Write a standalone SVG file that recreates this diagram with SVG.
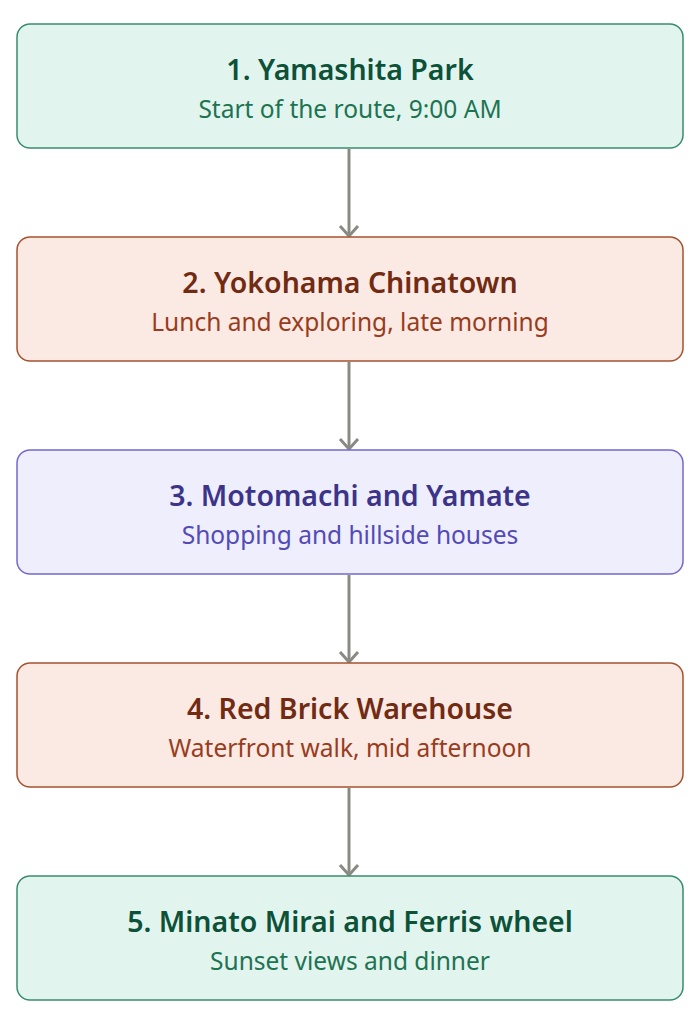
<svg xmlns="http://www.w3.org/2000/svg" width="700" height="1024" viewBox="0 0 700 1024">
<defs>
<style>
.t{font-family:"Noto Sans","Open Sans","Liberation Sans",sans-serif;font-size:28.5px;font-weight:600;text-anchor:middle}
.s{font-family:"Noto Sans","Open Sans","Liberation Sans",sans-serif;font-size:24.5px;text-anchor:middle}
.g rect{fill:#e1f5ee;stroke:#3a8c6e;stroke-width:1.5}
.g .t{fill:#0c5138}.g .s{fill:#1d7352}
.o rect{fill:#fbeae4;stroke:#a5522f;stroke-width:1.5}
.o .t{fill:#712b13}.o .s{fill:#993c1d}
.p rect{fill:#eeeefd;stroke:#7468cc;stroke-width:1.5}
.p .t{fill:#3c3489}.p .s{fill:#534ab7}
.c line{stroke:#8a8a85;stroke-width:3}
</style>
<marker id="ah" markerWidth="22" markerHeight="22" viewBox="0 0 22 22" refX="12" refY="11" orient="auto" markerUnits="userSpaceOnUse">
<path d="M2,2 L12,11 L2,20" fill="none" stroke="#8a8a85" stroke-width="3"/>
</marker>
</defs>
<rect width="700" height="1024" fill="#ffffff"/>
<g id="connectors" class="c">
<line x1="349" y1="149" x2="349" y2="236" marker-end="url(#ah)"/>
<line x1="349" y1="362" x2="349" y2="449" marker-end="url(#ah)"/>
<line x1="349" y1="575" x2="349" y2="662" marker-end="url(#ah)"/>
<line x1="349" y1="788" x2="349" y2="875" marker-end="url(#ah)"/>
</g>
<g id="n1" class="g">
<rect x="17" y="24" width="666" height="124" rx="13"/>
<text class="t" x="350" y="80">1. Yamashita Park</text>
<text class="s" x="350" y="118">Start of the route, 9:00 AM</text>
</g>
<g id="n2" class="o">
<rect x="17" y="237" width="666" height="124" rx="13"/>
<text class="t" x="350" y="293">2. Yokohama Chinatown</text>
<text class="s" x="350" y="331">Lunch and exploring, late morning</text>
</g>
<g id="n3" class="p">
<rect x="17" y="450" width="666" height="124" rx="13"/>
<text class="t" x="350" y="506">3. Motomachi and Yamate</text>
<text class="s" x="350" y="544">Shopping and hillside houses</text>
</g>
<g id="n4" class="o">
<rect x="17" y="663" width="666" height="124" rx="13"/>
<text class="t" x="350" y="719">4. Red Brick Warehouse</text>
<text class="s" x="350" y="757">Waterfront walk, mid afternoon</text>
</g>
<g id="n5" class="g">
<rect x="17" y="876" width="666" height="124" rx="13"/>
<text class="t" x="350" y="932">5. Minato Mirai and Ferris wheel</text>
<text class="s" x="350" y="970">Sunset views and dinner</text>
</g>
</svg>
